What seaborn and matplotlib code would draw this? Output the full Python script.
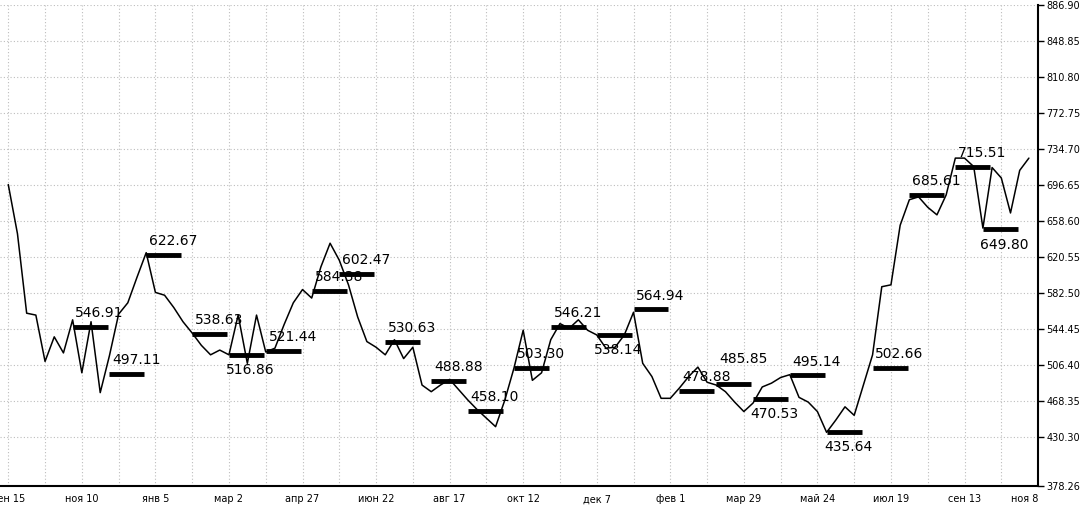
import numpy as np
import pandas as pd
import matplotlib
matplotlib.use("Agg")
import matplotlib.pyplot as plt
import seaborn as sns

# weekly closes
close = [697, 645, 561, 559, 510, 536, 519, 554, 498, 552,
         477, 516, 560, 572, 599, 625, 583, 580, 567, 552,
         540, 527, 517, 522, 517, 559, 508, 559, 520, 524,
         549, 572, 586, 577, 610, 635, 617, 591, 557, 531,
         525, 517, 533, 513, 525, 485, 478, 485, 491, 480,
         469, 459, 450, 441, 469, 503, 543, 490, 498, 533,
         550, 545, 554, 543, 538, 524, 525, 538, 562, 508,
         494, 471, 471, 482, 494, 504, 488, 485, 478, 467,
         457, 466, 483, 487, 493, 496, 472, 467, 457, 435,
         448, 462, 453, 485, 517, 589, 591, 654, 681, 684,
         673, 665, 686, 725, 725, 716, 651, 715, 704, 667,
         712, 725]

# fractal levels: start week, price, label side
lvl_week = [7, 11, 15, 20, 24, 28, 33, 36, 41, 46, 50, 55,
            59, 64, 68, 73, 77, 81, 85, 89, 94, 98, 103, 106]
lvl_price = [546.91, 497.11, 622.67, 538.63, 516.86, 521.44, 584.38, 602.47,
             530.63, 488.88, 458.10, 503.30, 546.21, 538.14, 564.94, 478.88,
             485.85, 470.53, 495.14, 435.64, 502.66, 685.61, 715.51, 649.80]
lvl_side = ["up", "up", "up", "up", "dn", "up", "up", "up",
            "up", "up", "up", "up", "up", "dn", "up", "up",
            "hi", "dn", "up", "dn", "up", "up", "up", "dn"]

x_labels = ["сен 15", "ноя 10", "янв 5", "мар 2", "апр 27", "июн 22", "авг 17",
            "окт 12", "дек 7", "фев 1", "мар 29", "май 24", "июл 19", "сен 13", "ноя 8"]
y_ticks = [378.26, 430.30, 468.35, 506.40, 544.45, 582.50, 620.55, 658.60,
           696.65, 734.70, 772.75, 810.80, 848.85, 886.90]

df = pd.DataFrame({"week": np.arange(len(close)), "close": close})

sns.set_style("white")
plt.rcParams["font.family"] = ["DejaVu Sans"]
plt.rcParams["text.color"] = "black"

fig = plt.figure(figsize=(10.87, 5.05), dpi=100)
ax = fig.add_axes([0.0, 0.0376, 0.955, 0.9525])

sns.lineplot(data=df, x="week", y="close", ax=ax, color="black", lw=1.1)

bar_len = 3.8
ax.hlines(lvl_price, lvl_week, np.array(lvl_week) + bar_len, colors="black", lw=3.5)
offsets = {"up": (2, 5), "hi": (2, 13), "dn": (-2, -6)}
for w, p, s in zip(lvl_week, lvl_price, lvl_side):
    ax.annotate(f"{p:.2f}", (w, p), xytext=offsets[s], textcoords="offset points",
                ha="left", va="top" if s == "dn" else "bottom",
                fontsize=10, color="black")

ax.set_xlim(-0.9, 112)
ax.set_ylim(y_ticks[0], y_ticks[-1])

ax.set_xticks(np.arange(len(x_labels)) * 8)
ax.set_xticklabels(x_labels, fontsize=7, color="black")
ax.get_xticklabels()[-1].set_horizontalalignment("right")
ax.set_xticks(np.arange(4, 112, 8), minor=True)
ax.yaxis.tick_right()
ax.set_yticks(y_ticks)
ax.set_yticklabels([f"{v:.2f}" for v in y_ticks], fontsize=7, color="black")

ax.grid(True, which="both", color="#bdbdbd", linestyle=(0, (1, 2)), lw=0.8)
ax.tick_params(axis="x", which="major", direction="out", length=4, width=1, pad=2, color="black")
ax.tick_params(axis="x", which="minor", length=0)
ax.tick_params(axis="y", direction="out", length=4, width=1, pad=2, color="black")

for side in ["top", "left"]:
    ax.spines[side].set_visible(False)
for side in ["bottom", "right"]:
    ax.spines[side].set_color("black")
    ax.spines[side].set_linewidth(1.5)

ax.set_xlabel("")
ax.set_ylabel("")

fig.savefig("out.png", dpi=100)
